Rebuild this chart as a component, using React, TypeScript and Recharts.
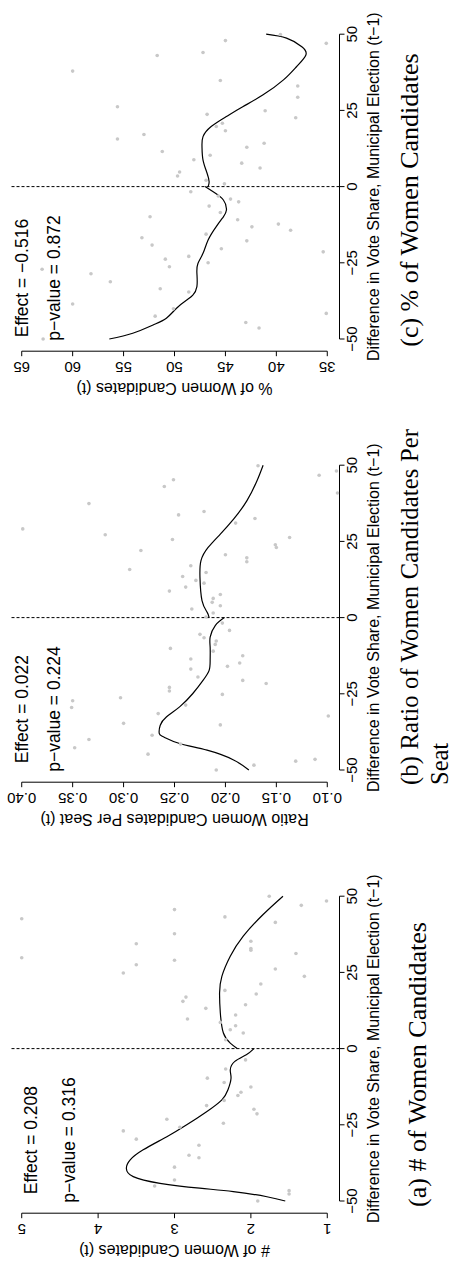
import React from 'react';
import { ComposedChart, XAxis, YAxis, Scatter, Line, ReferenceLine } from 'recharts';

const SANS = '"Liberation Sans", Arial, Helvetica, sans-serif';
const SERIF = '"Liberation Serif", "Times New Roman", serif';

// shared x axis (vote share difference)
const xTicks = [-50, -25, 0, 25, 50];
const xDomain: [number, number] = [-54, 54];
const xTitle = 'Difference in Vote Share, Municipal Election (t\u22121)';

// (a) # of women candidates
const countTicks = [1, 2, 3, 4, 5];
const countPoints: [number, number][] = [
  [50.0, 1.76], [48.4, 1.01], [47.0, 1.34], [45.6, 3.0], [42.6, 5.0], [43.2, 2.34], [41.4, 1.68],
  [37.7, 3.0], [35.2, 2.0], [34.4, 3.5], [32.8, 2.0], [32.3, 2.0], [31.2, 1.41], [29.8, 5.0],
  [29.0, 3.0], [27.5, 3.5], [26.1, 1.68], [24.8, 3.67], [23.7, 1.3], [21.2, 1.87], [19.1, 2.34],
  [17.9, 1.93], [16.9, 2.85], [15.5, 2.89], [14.4, 2.07], [13.2, 2.59], [11.0, 2.2], [9.7, 2.83],
  [8.6, 2.4], [7.5, 2.2], [6.2, 2.27], [5.1, 2.1], [2.9, 2.33], [-3.7, 2.07], [-6.7, 2.33],
  [-9.7, 2.57], [-11.1, 2.35], [-12.6, 2.0], [-14.3, 2.13], [-15.4, 2.17], [-17.0, 2.35],
  [-18.7, 2.58], [-19.9, 1.96], [-21.4, 1.92], [-23.2, 3.1], [-24.5, 2.36], [-25.8, 2.93],
  [-27.0, 3.67], [-29.7, 3.5], [-31.7, 2.68], [-35.0, 2.81], [-35.8, 2.68], [-38.9, 3.0],
  [-43.1, 3.0], [-45.1, 3.26], [-46.6, 1.5], [-47.7, 1.5], [-50.0, 1.91],
];
const countFitLeft: [number, number][] = [
  [-50, 1.55], [-48.6, 1.79], [-46.9, 2.23], [-45.8, 2.67], [-44.2, 3.19], [-42.0, 3.54],
  [-39.3, 3.63], [-36.5, 3.58], [-33.2, 3.41], [-28.9, 3.1], [-25.0, 2.84], [-20.7, 2.58],
  [-16.8, 2.38], [-13.5, 2.3], [-9.7, 2.26], [-7.0, 2.27], [-4.2, 2.21], [-2.0, 2.06], [0, 1.96],
];
const countFitRight: [number, number][] = [
  [0, 2.18], [1.8, 2.27], [5.1, 2.36], [11.7, 2.4], [18.3, 2.41], [23.7, 2.38], [30.3, 2.27],
  [36.9, 2.1], [44.0, 1.84], [50, 1.58],
];
const countStats = ['Effect = 0.208', 'p\u2212value = 0.316'];

// (b) ratio of women candidates per seat
const ratioTicks = [0.1, 0.15, 0.2, 0.25, 0.3, 0.35, 0.4];
const ratioPoints: [number, number][] = [
  [49.8, 0.168], [46.7, 0.108], [48.1, 0.091], [43.0, 0.26], [45.2, 0.251], [37.4, 0.334],
  [40.9, 0.09], [33.7, 0.246], [34.8, 0.221], [32.5, 0.171], [31.0, 0.19], [29.1, 0.399],
  [27.2, 0.318], [25.6, 0.252], [26.3, 0.137], [23.9, 0.151], [23.0, 0.15], [22.0, 0.283],
  [20.6, 0.2], [19.6, 0.179], [18.3, 0.179], [17.0, 0.234], [15.8, 0.294], [14.8, 0.219],
  [13.5, 0.242], [12.2, 0.229], [11.3, 0.221], [10.0, 0.239], [8.7, 0.255], [7.6, 0.205],
  [6.3, 0.212], [5.0, 0.213], [3.9, 0.205], [2.8, 0.233], [1.5, 0.212], [0.2, 0.219],
  [-1.8, 0.203], [-4.2, 0.196], [-5.5, 0.225], [-6.6, 0.221], [-7.7, 0.209], [-8.8, 0.21],
  [-10.1, 0.254], [-11.0, 0.212], [-12.5, 0.183], [-13.6, 0.234], [-14.9, 0.186], [-16.0, 0.198],
  [-16.9, 0.234], [-19.5, 0.227], [-20.6, 0.183], [-21.6, 0.16], [-22.9, 0.255], [-24.1, 0.255],
  [-25.2, 0.203], [-26.3, 0.303], [-27.3, 0.35], [-28.7, 0.239], [-29.5, 0.351], [-31.5, 0.266],
  [-32.3, 0.099], [-33.6, 0.365], [-34.7, 0.3], [-35.2, 0.205], [-38.6, 0.272], [-40.0, 0.334],
  [-41.5, 0.244], [-42.7, 0.348], [-44.8, 0.276], [-47.1, 0.131], [-46.5, 0.112], [-48.4, 0.172],
  [-50.0, 0.209],
];
const ratioFitLeft: [number, number][] = [
  [-50, 0.177], [-46.7, 0.192], [-43.5, 0.218], [-41.3, 0.245], [-39.1, 0.261], [-38.0, 0.265],
  [-35.3, 0.264], [-32.6, 0.258], [-29.3, 0.245], [-24.9, 0.232], [-20.6, 0.222], [-17.3, 0.216],
  [-14.0, 0.215], [-9.7, 0.215], [-6.4, 0.215], [-2.6, 0.21], [0, 0.201],
];
const ratioFitRight: [number, number][] = [
  [0, 0.216], [1.8, 0.218], [5.6, 0.223], [13.2, 0.225], [18.7, 0.224], [23.0, 0.217],
  [27.4, 0.205], [32.3, 0.192], [38.3, 0.179], [44.9, 0.169], [50, 0.163],
];
const ratioStats = ['Effect = 0.022', 'p\u2212value = 0.224'];

// (c) % of women candidates
const pctTicks = [35, 40, 45, 50, 55, 60, 65];
const pctPoints: [number, number][] = [
  [49.9, 39.6], [47.0, 35.1], [47.9, 45.0], [44.0, 47.2], [43.0, 51.7], [37.9, 60.0], [34.8, 45.5],
  [33.0, 37.9], [29.3, 37.9], [26.2, 55.6], [24.9, 41.1], [22.6, 38.1], [23.7, 46.8], [19.7, 45.9],
  [20.8, 45.3], [18.3, 45.0], [17.1, 53.0], [15.6, 55.6], [14.2, 41.2], [12.9, 42.9], [11.5, 51.2],
  [10.3, 46.5], [8.8, 48.1], [7.7, 43.4], [6.1, 41.6], [4.8, 49.5], [3.5, 49.7], [2.1, 46.9],
  [0.9, 45.1], [-1.7, 48.4], [-3.1, 45.7], [-4.1, 44.5], [-5.0, 43.7], [-6.4, 46.6], [-8.5, 45.5],
  [-9.9, 52.4], [-10.9, 43.8], [-12.3, 39.8], [-13.2, 42.4], [-14.3, 38.6], [-15.6, 46.9],
  [-16.8, 53.2], [-17.8, 42.9], [-19.2, 52.2], [-20.4, 45.4], [-21.4, 35.4], [-22.9, 48.6],
  [-23.8, 50.9], [-25.0, 46.7], [-26.3, 50.5], [-27.1, 63.0], [-28.6, 58.2], [-31.2, 56.3],
  [-33.5, 51.4], [-34.6, 48.6], [-38.5, 60.0], [-40.1, 50.1], [-42.5, 51.9], [-41.6, 35.1],
  [-44.6, 43.0], [-46.4, 41.7], [-50.0, 62.9],
];
const pctFitLeft: [number, number][] = [
  [-50, 56.4], [-48.1, 54.1], [-45.4, 52.1], [-43.2, 50.8], [-39.9, 49.8], [-37.2, 48.8],
  [-35.6, 48.2], [-32.8, 47.8], [-28.4, 47.8], [-25.2, 47.7], [-21.9, 47.2], [-17.5, 46.7],
  [-13.1, 45.9], [-9.9, 45.2], [-7.7, 44.9], [-4.4, 45.2], [-1.7, 46.2], [0, 47.0],
];
const pctFitRight: [number, number][] = [
  [0, 46.7], [1.6, 46.6], [4.4, 46.8], [8.7, 47.2], [13.1, 47.3], [16.4, 47.2], [19.7, 46.4],
  [23.0, 44.9], [26.2, 43.3], [30.1, 41.3], [35.0, 39.3], [39.4, 38.0], [43.2, 37.1],
  [45.9, 37.5], [48.7, 39.0], [50, 41.0],
];
const pctStats = ['Effect = \u22120.516', 'p\u2212value = 0.872'];

// unrotated panel frame: plot spans u 79.8..409, v 9.5..339.5
const W = 431;
const H = 453;
const CH = 400;
const LEFT = 79.8;
const TOP = 9.5;
const BOTTOM = 339.5;

const toXY = (arr: [number, number][]) => arr.map(([x, y]) => ({ x, y }));
const minus = (v: number) => String(v).replace('-', '\u2212');

const grayDot = (p: any) => <circle cx={p.cx} cy={p.cy} r={1.8} fill="#c8c8c8" />;

const yTick = (digits: number) => (p: any) => {
  const bx = 69;
  return (
    <text x={bx} y={p.y} transform={`rotate(-90 ${bx} ${p.y})`} textAnchor="middle"
      fontSize={15} fontFamily={SANS} fill="#000">
      {Number(p.payload.value).toFixed(digits)}
    </text>
  );
};

interface PanelProps {
  top: number;
  points: [number, number][];
  fitLeft: [number, number][];
  fitRight: [number, number][];
  ticks: number[];
  digits: number;
  yTitle: string;
  stats: string[];
  statY: [number, number];
  caption: React.ReactNode;
}

function Panel({ top, points, fitLeft, fitRight, ticks, digits, yTitle, stats, statY, caption }: PanelProps) {
  const lo = ticks[0];
  const hi = ticks[ticks.length - 1];
  const pad = (hi - lo) * 0.04;
  const domain: [number, number] = [lo - pad, hi + pad];
  const midV = (TOP + BOTTOM) / 2;
  const statU = LEFT + (24 / 108) * (409 - LEFT);
  return (
    <div style={{
      position: 'absolute', left: 0, top, width: W, height: H,
      transformOrigin: '0 0', transform: `translate(0px, ${W}px) rotate(-90deg)`,
    }}>
      <ComposedChart width={W} height={CH} margin={{ top: TOP, right: 22, bottom: 0, left: 0 }}>
        <XAxis type="number" dataKey="x" domain={xDomain} ticks={xTicks} allowDataOverflow
          interval={0} axisLine={false} tickSize={5} tickLine={{ stroke: '#000' }}
          height={CH - BOTTOM} tickFormatter={minus}
          tick={{ fontSize: 15, fontFamily: SANS, fill: '#000' }} />
        <YAxis type="number" dataKey="y" domain={domain} ticks={ticks} allowDataOverflow
          interval={0} axisLine={false} tickSize={5} tickLine={{ stroke: '#000' }}
          width={LEFT} tick={yTick(digits)} />
        <ReferenceLine x={0} stroke="#000" strokeWidth={1} strokeDasharray="3 2" />
        <ReferenceLine segment={[{ x: -50, y: domain[0] }, { x: 50, y: domain[0] }]}
          stroke="#000" ifOverflow="visible" />
        <ReferenceLine segment={[{ x: xDomain[0], y: lo }, { x: xDomain[0], y: hi }]}
          stroke="#000" ifOverflow="visible" />
        <Scatter data={toXY(points)} dataKey="y" shape={grayDot} isAnimationActive={false} />
        <Line data={toXY(fitLeft)} dataKey="y" type="natural" stroke="#000" strokeWidth={1.2}
          dot={false} isAnimationActive={false} />
        <Line data={toXY(fitRight)} dataKey="y" type="natural" stroke="#000" strokeWidth={1.2}
          dot={false} isAnimationActive={false} />
      </ComposedChart>
      <svg width={W} height={H} style={{ position: 'absolute', left: 0, top: 0, overflow: 'visible' }}>
        <text x={244.3} y={379} textAnchor="middle" fontSize={16} fontFamily={SANS} fill="#000">{xTitle}</text>
        <text x={48} y={midV} transform={`rotate(-90 48 ${midV})`} textAnchor="middle"
          fontSize={16} fontFamily={SANS} fill="#000">{yTitle}</text>
        <text x={statU} y={statY[0]} textAnchor="middle" fontSize={17.5} fontFamily={SANS} fill="#000">{stats[0]}</text>
        <text x={statU} y={statY[1]} textAnchor="middle" fontSize={17.5} fontFamily={SANS} fill="#000">{stats[1]}</text>
        {caption}
      </svg>
    </div>
  );
}

export default function App() {
  return (
    <div style={{
      position: 'absolute', left: 0, top: 0, width: 453, height: 1265,
      overflow: 'hidden', background: '#fff',
    }}>
      <Panel top={0} points={pctPoints} fitLeft={pctFitLeft} fitRight={pctFitRight}
        ticks={pctTicks} digits={0} yTitle="% of Women Candidates (t)" stats={pctStats}
        statY={[28, 60]}
        caption={<text x={231} y={418} textAnchor="middle" fontSize={26} fontFamily={SERIF} fill="#000">(c) % of Women Candidates</text>} />
      <Panel top={431} points={ratioPoints} fitLeft={ratioFitLeft} fitRight={ratioFitRight}
        ticks={ratioTicks} digits={2} yTitle="Ratio Women Candidates Per Seat (t)" stats={ratioStats}
        statY={[28, 60]}
        caption={
          <g fontSize={24.5} fontFamily={SERIF} fill="#000">
            <text x={77} y={418} textLength={356} lengthAdjust="spacing">(b) Ratio of Women Candidates Per</text>
            <text x={77} y={448}>Seat</text>
          </g>
        } />
      <Panel top={862} points={countPoints} fitLeft={countFitLeft} fitRight={countFitRight}
        ticks={countTicks} digits={0} yTitle="# of Women Candidates (t)" stats={countStats}
        statY={[37, 75]}
        caption={<text x={228.5} y={426} textAnchor="middle" fontSize={26} fontFamily={SERIF} fill="#000">(a) # of Women Candidates</text>} />
    </div>
  );
}
